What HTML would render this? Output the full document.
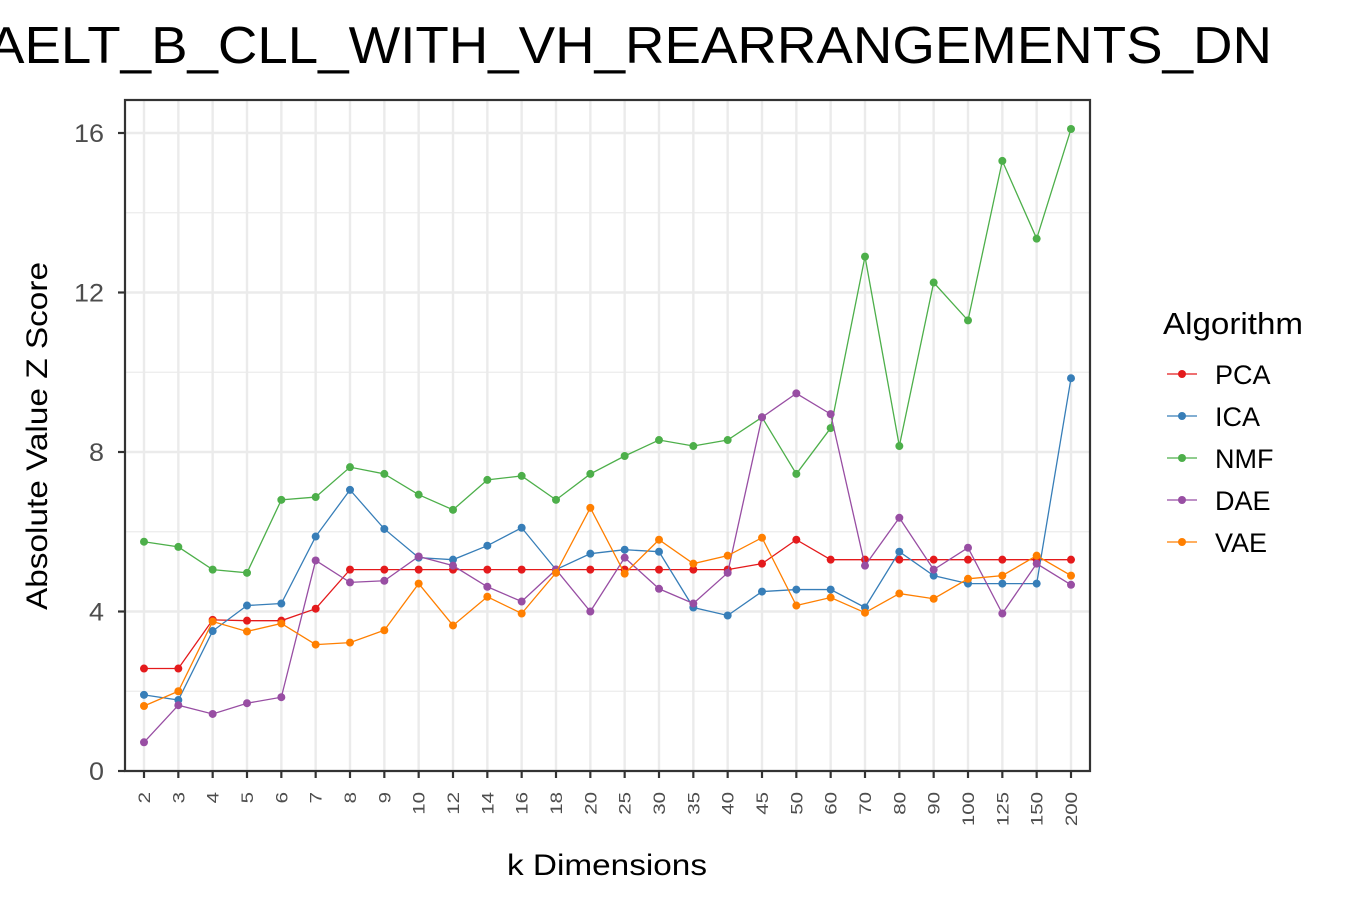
<!DOCTYPE html>
<html><head><meta charset="utf-8"><style>body{margin:0;background:#fff}svg{display:block;font-family:"Liberation Sans",Arial,sans-serif}</style></head>
<body>
<svg id="chart" width="1350" height="900">
<text x="-12" y="63" font-size="52" textLength="1284" lengthAdjust="spacingAndGlyphs" fill="#000">AELT_B_CLL_WITH_VH_REARRANGEMENTS_DN</text>
<g id="grid"></g><g id="series"></g><g id="axes"></g>
<text x="507" y="875" font-size="30" textLength="200" lengthAdjust="spacingAndGlyphs">k Dimensions</text>
<text transform="translate(47,610) rotate(-90)" font-size="30" textLength="348" lengthAdjust="spacingAndGlyphs">Absolute Value Z Score</text>
<text x="1163" y="334" font-size="31" textLength="140" lengthAdjust="spacingAndGlyphs">Algorithm</text>
<g id="legend"></g>
</svg>
<script>
const categories=["2","3","4","5","6","7","8","9","10","12","14","16","18","20","25","30","35","40","45","50","60","70","80","90","100","125","150","200"];
const seriesNames=["PCA","ICA","NMF","DAE","VAE"];
const pcaValues=[2.57,2.57,3.79,3.77,3.77,4.07,5.05,5.05,5.05,5.05,5.05,5.05,5.05,5.05,5.05,5.05,5.05,5.05,5.2,5.8,5.3,5.3,5.3,5.3,5.3,5.3,5.3,5.3];
const icaValues=[1.91,1.78,3.51,4.15,4.2,5.88,7.05,6.07,5.35,5.3,5.65,6.1,5.05,5.45,5.55,5.5,4.1,3.9,4.5,4.55,4.55,4.1,5.5,4.9,4.7,4.7,4.7,9.85];
const nmfValues=[5.75,5.62,5.05,4.97,6.8,6.87,7.62,7.45,6.93,6.55,7.3,7.4,6.8,7.45,7.9,8.3,8.15,8.3,8.87,7.45,8.6,12.9,8.15,12.25,11.3,15.3,13.35,16.1];
const daeValues=[0.72,1.65,1.43,1.7,1.85,5.28,4.73,4.77,5.38,5.15,4.62,4.25,5.05,4.0,5.35,4.57,4.2,4.97,8.87,9.47,8.95,5.15,6.35,5.05,5.6,3.95,5.2,4.67];
const vaeValues=[1.63,2.0,3.75,3.5,3.7,3.17,3.22,3.53,4.7,3.65,4.37,3.95,4.97,6.6,4.95,5.8,5.2,5.4,5.85,4.15,4.35,3.97,4.45,4.32,4.82,4.9,5.4,4.9];
const yTicks=[0,4,8,12,16];
const colors=["#e41a1c","#377eb8","#4daf4a","#984ea3","#ff7f00"];
const allValues=[pcaValues,icaValues,nmfValues,daeValues,vaeValues];
const NS="http://www.w3.org/2000/svg";
const L=125,R=1090,T=100,B=771;
const x=i=>144+i*(1071-144)/(categories.length-1);
const y=v=>771-v*(771-133)/16;
function mk(tag,attrs,parent){const e=document.createElementNS(NS,tag);for(const k in attrs)e.setAttribute(k,attrs[k]);parent.appendChild(e);return e;}
const grid=document.getElementById('grid'),axes=document.getElementById('axes'),ser=document.getElementById('series'),leg=document.getElementById('legend');
for(let v=2;v<16.5;v+=4){const g=mk('line',{x1:L,x2:R,y1:y(v),y2:y(v),stroke:'#ebebeb','stroke-width':1.2},grid);

}
yTicks.forEach(v=>{const g=mk('line',{x1:L,x2:R,y1:y(v),y2:y(v),stroke:'#ebebeb','stroke-width':2.4},grid);


mk('line',{x1:L-7,x2:L,y1:y(v),y2:y(v),stroke:'#333','stroke-width':2.2},axes);
const t=mk('text',{x:104,y:y(v)+9,'text-anchor':'end','font-size':25,textLength:String(v).length*15,lengthAdjust:'spacingAndGlyphs',fill:'#4d4d4d'},axes);t.textContent=v;

});
categories.forEach((c,i)=>{const g=mk('line',{x1:x(i),x2:x(i),y1:T,y2:B,stroke:'#ebebeb','stroke-width':2.4},grid);


mk('line',{x1:x(i),x2:x(i),y1:B,y2:B+7,stroke:'#333','stroke-width':2.2},axes);
const t=mk('text',{transform:`translate(${x(i)+6},792) rotate(-90)`,'text-anchor':'end','font-size':17,textLength:c.length*11.4,lengthAdjust:'spacingAndGlyphs',fill:'#4d4d4d'},axes);t.textContent=c;

});
const frame=mk('rect',{x:L,y:T,width:R-L,height:B-T,fill:'none',stroke:'#333','stroke-width':2.2},axes);


allValues.forEach((vals,s)=>{const g=mk('g',{},ser);


mk('polyline',{points:vals.map((v,i)=>x(i)+','+y(v)).join(' '),fill:'none',stroke:colors[s],'stroke-width':1.3},g);
vals.forEach((v,i)=>{const p=mk('circle',{cx:x(i),cy:y(v),r:4,fill:colors[s]},g);

});
const ly=374+s*42;const le=mk('g',{},leg);


mk('line',{x1:1167,x2:1197,y1:ly,y2:ly,stroke:colors[s],'stroke-width':1.3},le);
mk('circle',{cx:1182,cy:ly,r:4,fill:colors[s]},le);
const t=mk('text',{x:1215,y:ly+10,'font-size':27},le);t.textContent=seriesNames[s];});
</script>
</body></html>
